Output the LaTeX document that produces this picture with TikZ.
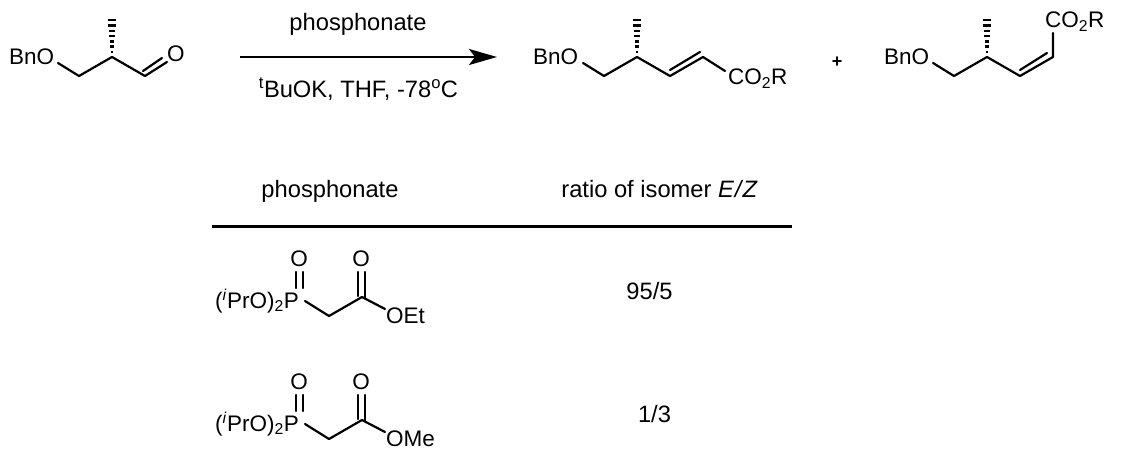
\documentclass[tikz,border=0pt]{standalone}
\usepackage{fontspec}
\setmainfont{Liberation Sans}
\usetikzlibrary{arrows.meta}

\newcommand{\hashbond}[1]{%
	\foreach \i in {0,...,6}
		\draw[line width=2.4pt] ([xshift={-(1+0.55*\i)*1pt},yshift={(5+5.3*\i)*1pt}]#1) -- ([xshift={(1+0.55*\i)*1pt},yshift={(5+5.3*\i)*1pt}]#1);%
}

\begin{document}
\begin{tikzpicture}[x=1pt,y=-1pt]
	\tikzset{
		bond/.style={line width=2.2pt, line cap=round, line join=round},
		chem/.style={font=\fontsize{22.5}{26}\selectfont, inner sep=0pt, anchor=base west},
		plain/.style={font=\fontsize{23.7}{28}\selectfont, inner sep=0pt, anchor=base},
	}
	\useasboundingbox (0,0) rectangle (1131,465);

	% aldehyde
	\node[chem] (bno1) at (9,65) {BnO};
	\node[chem] (oald) at (167,62) {O};
	\coordinate (a1) at (58,63);
	\coordinate (a2) at (79,76);
	\coordinate (a3) at (112,57);
	\coordinate (a4) at (145,76);
	\coordinate (a5) at (167,62);
	\coordinate (a6) at (143,71);
	\coordinate (a7) at (162,58);
	\draw[bond] (a1) -- (a2) -- (a3) -- (a4) -- (a5);
	\draw[bond] (a6) -- (a7);
	\hashbond{a3}

	% arrow
	\coordinate (arrstart) at (240,57);
	\coordinate (arrend) at (497,57);
	\draw[line width=2.2pt, -{Stealth[length=28pt,width=16pt,inset=6pt]}] (arrstart) -- (arrend);
	\node[plain] (reagent) at (358,31) {phosphonate};
	\node[plain] (cond) at (358.5,98) {\textsuperscript{t}BuOK, THF, -78\textsuperscript{o}C};

	% E product
	\node[chem] (bno2) at (533,65) {BnO};
	\node[chem] (estE) at (728,85) {CO\textsubscript{2}R};
	\coordinate (e1) at (583,63);
	\coordinate (e2) at (604,76);
	\coordinate (e3) at (637,57);
	\coordinate (e4) at (670,76);
	\coordinate (e5) at (703,57);
	\coordinate (e6) at (725,71);
	\coordinate (e7) at (670,70);
	\coordinate (e8) at (700,52);
	\draw[bond] (e1) -- (e2) -- (e3) -- (e4) -- (e5) -- (e6);
	\draw[bond] (e7) -- (e8);
	\hashbond{e3}

	\node[font=\bfseries\fontsize{18}{20}\selectfont, inner sep=0pt] (plus) at (837,62) {+};

	% Z product
	\node[chem] (bno3) at (884,65) {BnO};
	\node[chem] (estZ) at (1045,28) {CO\textsubscript{2}R};
	\coordinate (z1) at (933,63);
	\coordinate (z2) at (954,76);
	\coordinate (z3) at (987,57);
	\coordinate (z4) at (1020,76);
	\coordinate (z5) at (1053,57);
	\coordinate (z6) at (1053,33);
	\coordinate (z7) at (1020,70);
	\coordinate (z8) at (1047,53);
	\draw[bond] (z1) -- (z2) -- (z3) -- (z4) -- (z5) -- (z6);
	\draw[bond] (z7) -- (z8);
	\hashbond{z3}

	% table
	\node[plain] (head1) at (330,197) {phosphonate};
	\node[plain] (head2) at (659.5,197) {ratio of isomer \textit{E\kern1pt/\kern1ptZ}};
	\coordinate (ruleL) at (212,226.5);
	\coordinate (ruleR) at (792,226.5);
	\draw[line width=2.2pt] (ruleL) -- (ruleR);
	\node[plain] (val1) at (649.5,299) {95/5};
	\node[plain] (val2) at (654.5,422) {1/3};

	% phosphonates
	\foreach \n/\dy/\tail in {1/0/OEt,2/123/OMe}{
		\node[chem] (pr\n) at (215,308+\dy) {(\textsuperscript{\textit{i}}PrO)\textsubscript{2}P};
		\node[chem, anchor=center] (op\n) at (299,259+\dy) {O};
		\node[chem, anchor=center] (oc\n) at (361,259+\dy) {O};
		\node[chem] (or\n) at (386,323+\dy) {\tail};
		\coordinate (p\n a) at (305,301+\dy);
		\coordinate (p\n b) at (329,316+\dy);
		\coordinate (p\n c) at (362,297+\dy);
		\coordinate (p\n d) at (385,309+\dy);
		\coordinate (p\n e) at (296,272+\dy);
		\coordinate (p\n f) at (296,288+\dy);
		\coordinate (p\n g) at (303,272+\dy);
		\coordinate (p\n h) at (303,288+\dy);
		\coordinate (p\n i) at (358,272+\dy);
		\coordinate (p\n j) at (358,296+\dy);
		\coordinate (p\n k) at (365,272+\dy);
		\coordinate (p\n l) at (365,298+\dy);
		\draw[bond] (p\n a) -- (p\n b) -- (p\n c) -- (p\n d);
		\draw[bond] (p\n e) -- (p\n f);
		\draw[bond] (p\n g) -- (p\n h);
		\draw[bond] (p\n i) -- (p\n j);
		\draw[bond] (p\n k) -- (p\n l);
	}
\end{tikzpicture}
\end{document}
